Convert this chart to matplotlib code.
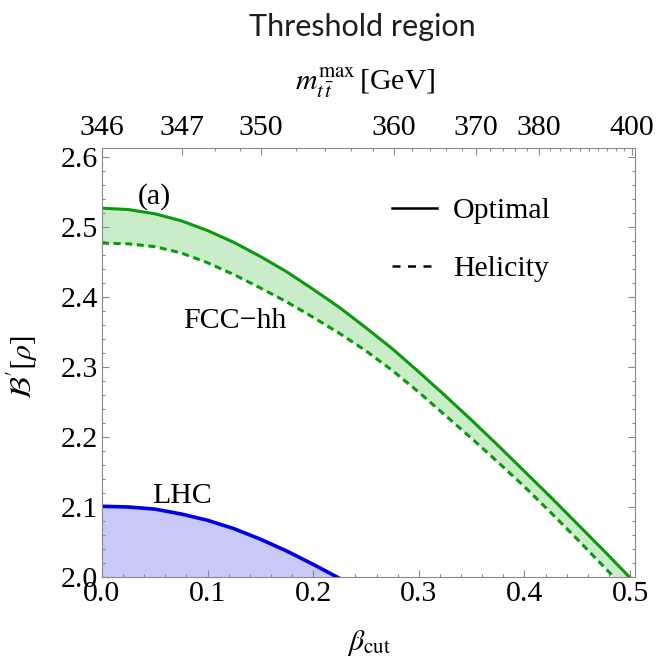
import numpy as np
import matplotlib
matplotlib.use("Agg")
import matplotlib.pyplot as plt
from matplotlib.lines import Line2D

SERIF = ['Liberation Serif', 'DejaVu Serif']
plt.rcParams['font.family'] = SERIF
plt.rcParams['mathtext.fontset'] = 'stix'

# beta_cut grid
beta = [0.000, 0.025, 0.050, 0.075, 0.100, 0.125, 0.150, 0.175, 0.200, 0.225,
        0.250, 0.275, 0.300, 0.325, 0.350, 0.375, 0.400, 0.425, 0.450, 0.475, 0.500]
fcc_optimal = [2.527, 2.525, 2.519, 2.509, 2.495, 2.478, 2.458, 2.436, 2.411, 2.385,
               2.356, 2.326, 2.293, 2.259, 2.224, 2.188, 2.151, 2.114, 2.076, 2.038, 1.999]
fcc_helicity = [2.477, 2.476, 2.472, 2.463, 2.449, 2.432, 2.413, 2.393, 2.371, 2.348,
                2.323, 2.295, 2.264, 2.231, 2.198, 2.164, 2.129, 2.092, 2.054, 2.015, 1.976]

beta_lhc = [0.000, 0.025, 0.050, 0.075, 0.100, 0.125, 0.150, 0.175, 0.200, 0.225]
lhc_optimal = [2.101, 2.100, 2.097, 2.090, 2.081, 2.069, 2.054, 2.037, 2.018, 1.998]

# top axis: m_tt^max ticks
m_major = [346, 347, 350, 360, 370, 380, 400]
m_minor = [348, 349] + list(range(352, 360, 2)) + list(range(362, 370, 2)) \
    + list(range(372, 380, 2)) + list(range(382, 400, 2))
M_TOP = 173.0

Y_MIN, Y_MAX = 2.0, 2.613
X_MIN, X_MAX = 0.0, 0.5047

GREEN = '#0d990d'
GREEN_FILL = '#c8edc8'
BLUE = '#0000e6'
BLUE_FILL = '#c9c9f7'
FRAME = '#8a8a8a'
FS = 21.5


def m_to_beta(m):
    m = np.asarray(m, dtype=float)
    return np.sqrt(1.0 - (2 * M_TOP / m) ** 2)


fig = plt.figure(figsize=(6.58, 6.60), dpi=100)
ax = fig.add_axes([0.155, 0.1258, 0.810, 0.650])

ax.fill_between(beta, fcc_helicity, fcc_optimal, color=GREEN_FILL, lw=0)
ax.fill_between(beta_lhc, Y_MIN, lhc_optimal, color=BLUE_FILL, lw=0)
ax.plot(beta, fcc_optimal, color=GREEN, lw=2.2)
ax.plot(beta, fcc_helicity, color=GREEN, lw=2.2, dashes=(2.3, 1.5))
ax.plot(beta_lhc, lhc_optimal, color=BLUE, lw=2.6)

ax.set_xlim(X_MIN, X_MAX)
ax.set_ylim(Y_MIN, Y_MAX)
ax.set_xticks(np.arange(0, 0.51, 0.1))
ax.set_xticks(np.arange(0, 0.501, 0.02), minor=True)
ax.set_xticklabels(['0.0', '0.1', '0.2', '0.3', '0.4', '0.5'], fontfamily=SERIF)
ax.set_yticks(np.arange(2.0, 2.61, 0.1))
ax.set_yticks(np.arange(2.0, 2.6101, 0.02), minor=True)
ax.set_yticklabels(['2.0', '2.1', '2.2', '2.3', '2.4', '2.5', '2.6'], fontfamily=SERIF)
ax.tick_params(which='both', direction='in', top=False, right=True,
               color=FRAME, width=0.8, labelsize=FS, labelcolor='black')
ax.tick_params(which='major', length=5)
ax.tick_params(which='minor', length=2.5)
ax.tick_params(axis='x', pad=3)
ax.tick_params(axis='y', pad=3)
for s in ax.spines.values():
    s.set_color(FRAME)
    s.set_linewidth(0.8)

ax2 = ax.twiny()
ax2.set_xlim(X_MIN, X_MAX)
ax2.set_xticks(m_to_beta(m_major))
ax2.set_xticklabels([str(m) for m in m_major], fontfamily=SERIF)
ax2.set_xticks(m_to_beta(m_minor), minor=True)
ax2.tick_params(which='both', direction='in', color=FRAME, width=0.8,
                labelsize=FS, labelcolor='black', pad=5)
ax2.tick_params(which='major', length=5)
ax2.tick_params(which='minor', length=2.5)
for s in ax2.spines.values():
    s.set_visible(False)

ax.set_xlabel(r'$\beta_{\rm cut}$', fontsize=FS)
ax.xaxis.set_label_coords(0.5, -0.118)
ax.set_ylabel(r"$\mathcal{B}'[\rho]$", fontsize=FS)
ax.yaxis.set_label_coords(-0.116, 0.49)
ax2.set_xlabel(r'$m_{t\,\bar{t}}^{\rm max}\,$[GeV]', fontsize=FS)
ax2.xaxis.set_label_coords(0.493, 1.135)

ax.text(0.050, 2.534, '(a)', fontsize=FS, ha='center', va='baseline')
ax.text(0.126, 2.356, 'FCC\u2212hh', fontsize=FS, ha='center', va='baseline')
ax.text(0.0758, 2.1057, 'LHC', fontsize=FS, ha='center', va='baseline')

handles = [Line2D([], [], color='black', lw=1.8),
           Line2D([], [], color='black', lw=1.8, dashes=(3.2, 3.0))]
ax.legend(handles, ['Optimal', 'Helicity'], loc='upper left',
          bbox_to_anchor=(0.544, 0.885), frameon=False, fontsize=FS,
          handlelength=1.5, handletextpad=0.55, labelspacing=1.05, borderpad=0,
          borderaxespad=0)

fig.text(0.550, 0.959, 'Threshold region', family='Lato', fontweight='normal',
         color='#1e1e1e', fontsize=22, ha='center', va='center')

fig.savefig('out.png', dpi=100)
